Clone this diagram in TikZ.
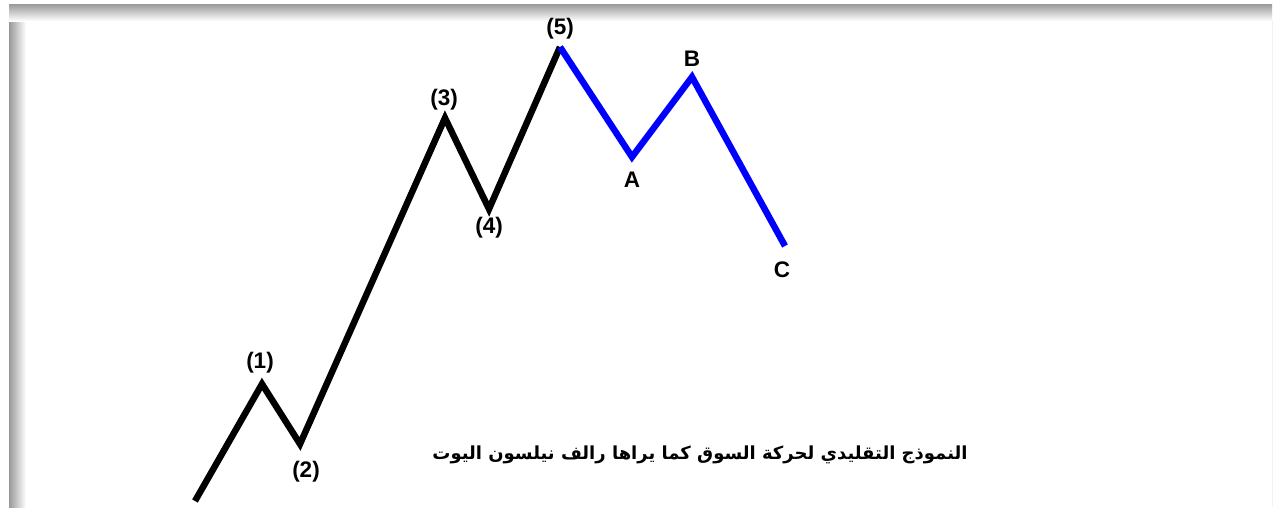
\documentclass[tikz,border=0pt]{standalone}
\usepackage{fontspec}
\setmainfont{Liberation Sans}
\newfontfamily\arabicfont[Script=Arabic]{DejaVu Sans}
\TeXXeTstate=1

\begin{document}
\begin{tikzpicture}[
  x=0.025cm, y=-0.025cm,
  wave/.style={line width=4.6pt, line join=miter},
  lab/.style={inner sep=0pt, font=\fontsize{16}{19}\selectfont\bfseries},
  caption/.style={inner sep=0pt, font=\arabicfont\fontsize{12.8}{16}\selectfont\bfseries}
]
\useasboundingbox (0,0) rectangle (1280,507);

% ===================== Frame =====================
    \shade[left color=gray!80, right color=white] (9,4) rectangle (26,507);
    \shade[top color=gray!80, bottom color=white] (9,4) rectangle (1272,21);
    \draw[gray!10, line width=0.6pt] (1272,21) -- (1272,507);

% ===================== Impulse =====================
    % Turning points
    \coordinate (W0) at (195,501);
    \coordinate (W1) at (262,384);
    \coordinate (W2) at (300,444);
    \coordinate (W3) at (445,118);
    \coordinate (W4) at (489,209);
    \coordinate (W5) at (560,47);

    % Legs
    \draw[wave, black] (W0)--(W1)--(W2)--(W3)--(W4)--(W5);

    % Labels
    \node[lab] (L1) at (260,363) {(1)};
    \node[lab] (L2) at (306,472) {(2)};
    \node[lab] (L3) at (444,100) {(3)};
    \node[lab] (L4) at (489,228) {(4)};
    \node[lab] (L5) at (560,29)  {(5)};

% ===================== Correction =====================
    % Turning points
    \coordinate (WA) at (632,157);
    \coordinate (WB) at (692,77);
    \coordinate (WC) at (785,246);

    % Legs
    \draw[wave, blue] (W5)--(WA)--(WB)--(WC);

    % Labels
    \node[lab] (LA) at (632,180) {A};
    \node[lab] (LB) at (692,59)  {B};
    \node[lab] (LC) at (782,270) {C};

    % Caption
    \node[caption] (title) at (700,455)
      {\beginR النموذج التقليدي لحركة السوق كما يراها رالف نيلسون اليوت\endR};

\end{tikzpicture}
\end{document}
